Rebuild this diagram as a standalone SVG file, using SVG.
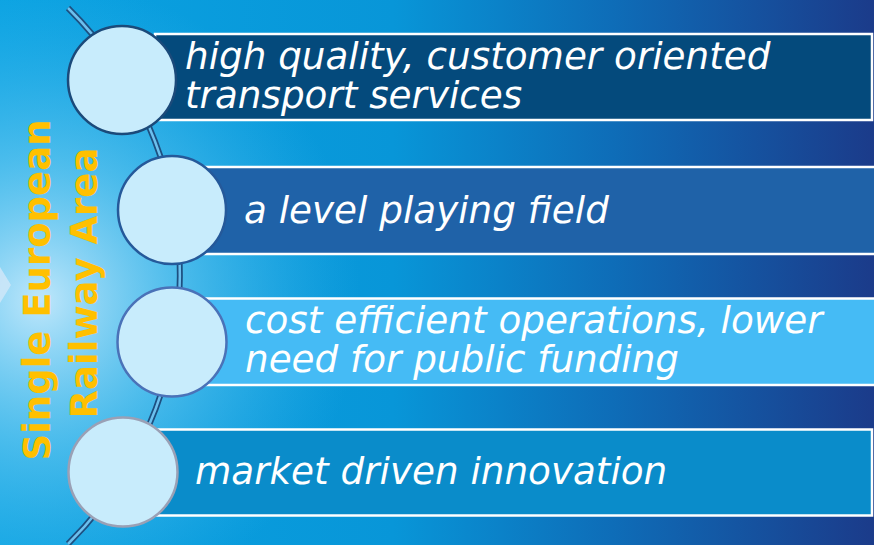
<svg xmlns="http://www.w3.org/2000/svg" width="874" height="545" viewBox="0 0 874 545">
<defs>
<linearGradient id="bg" x1="0" y1="0" x2="1" y2="0">
<stop offset="0" stop-color="#0aa3e2"/>
<stop offset="0.45" stop-color="#0896d8"/>
<stop offset="0.7" stop-color="#0e6db8"/>
<stop offset="1" stop-color="#1b3b8a"/>
</linearGradient>
<radialGradient id="glow" gradientUnits="userSpaceOnUse" cx="40" cy="300" r="320">
<stop offset="0" stop-color="#bfe7fb" stop-opacity="1"/>
<stop offset="0.45" stop-color="#6ccaf2" stop-opacity="0.65"/>
<stop offset="1" stop-color="#3ab4ec" stop-opacity="0"/>
</radialGradient>
<style>
.bar{stroke:#ffffff;stroke-width:2.5}
.lbl{font-family:"DejaVu Sans","Verdana",sans-serif;font-style:italic;font-size:37.3px;fill:#ffffff}
.side{font-family:"DejaVu Sans","Verdana",sans-serif;font-weight:bold;font-size:37px;fill:#ffc000;text-anchor:middle}
.dot{fill:#c8ecfc;stroke-width:2.5}
</style>
</defs>
<rect x="0" y="0" width="874" height="545" fill="url(#bg)"/>
<rect x="0" y="0" width="874" height="545" fill="url(#glow)"/>
<polygon points="0,267 11,285 0,303" fill="#cfe6f8" opacity="0.85"/>
<g id="connectors">
<path d="M68,8 A377,377 0 0 1 68,544" fill="none" stroke="#1d4f80" stroke-width="6"/>
<path d="M68,8 A377,377 0 0 1 68,544" fill="none" stroke="#6cc0ee" stroke-width="2.5"/>
</g>
<g id="node1">
<rect class="bar" x="155" y="34" width="717" height="86" fill="#044a7c"/>
<circle class="dot" cx="122" cy="80" r="54" stroke="#1b4a7a"/>
<text class="lbl"><tspan x="185" y="69">high quality, customer oriented</tspan><tspan x="185" y="108">transport services</tspan></text>
</g>
<g id="node2">
<rect class="bar" x="205" y="167" width="672" height="87" fill="#1f62a8"/>
<circle class="dot" cx="172" cy="210" r="54" stroke="#25599a"/>
<text class="lbl" x="244" y="222.5">a level playing field</text>
</g>
<g id="node3">
<rect class="bar" x="205" y="298.5" width="672" height="86.5" fill="#45bbf5"/>
<circle class="dot" cx="172" cy="342" r="54.5" stroke="#4a72b8"/>
<text class="lbl"><tspan x="245" y="333">cost efficient operations, lower</tspan><tspan x="245" y="372">need for public funding</tspan></text>
</g>
<g id="node4">
<rect class="bar" x="155" y="429.5" width="717" height="86" fill="#0a8cca"/>
<circle class="dot" cx="123" cy="472" r="54.5" stroke="#9aa0b5"/>
<text class="lbl" x="195" y="484">market driven innovation</text>
</g>
<g id="title">
<text class="side" transform="translate(50,290) rotate(-90)">Single European</text>
<text class="side" transform="translate(97,283) rotate(-90)">Railway Area</text>
</g>
</svg>
